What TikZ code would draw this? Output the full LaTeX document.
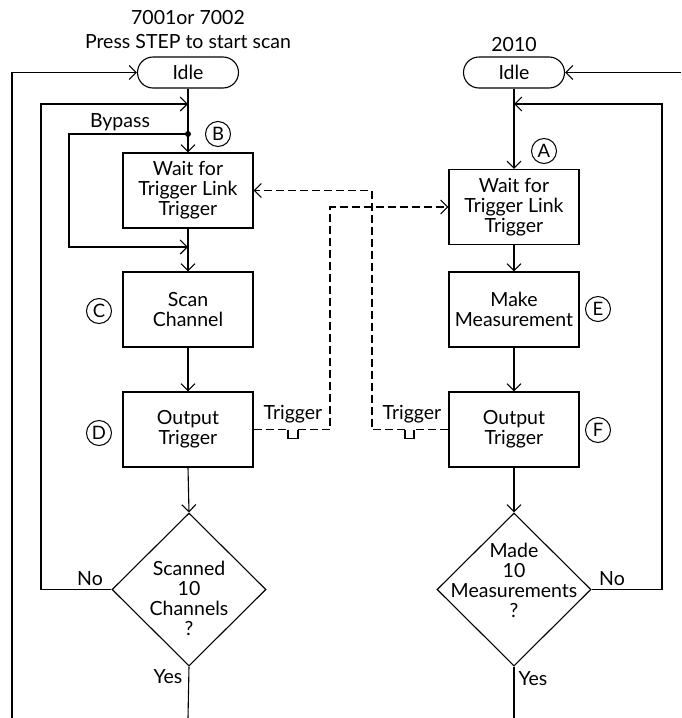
\documentclass[tikz,border=0pt]{standalone}
\usepackage{fontspec}
\setmainfont{Lato}
\usetikzlibrary{arrows.meta,shapes.geometric}
\begin{document}
\begin{tikzpicture}[x=1pt,y=-1pt,
  every node/.style={font=\fontsize{19.5}{20}\selectfont},
  box/.style={draw,line width=1.1pt,minimum width=130pt,minimum height=75pt,align=center,inner sep=0pt},
  term/.style={draw,line width=1.1pt,rounded corners=15.5pt,minimum width=101pt,minimum height=31pt,inner sep=0pt},
  dia/.style={draw,line width=1.1pt,diamond,minimum width=154pt,minimum height=153pt,inner sep=0pt},
  lbl/.style={circle,draw,line width=1pt,minimum size=25pt,inner sep=0pt,font=\fontsize{18.5}{18.5}\selectfont},
  ln/.style={line width=1.1pt},
  arr/.style={ln,-{Straight Barb[length=7pt,width=14pt]}},
  dsh/.style={ln,dash pattern=on 8pt off 4pt},
  txt/.style={align=center,inner sep=0pt}
]
\useasboundingbox (0,0) rectangle (681,718);

% ---------- left column ----------
\node[txt] (h1) at (188,18) {7001or 7002};
\node[txt] (h2) at (188,42) {Press STEP to start scan};
\node[term] (i1) at (188,72.5) {Idle};
\node[box] (w1) at (188,190.5) {Wait for\\Trigger Link\\Trigger};
\node[box] (s1) at (188,309.5) {Scan\\Channel};
\node[box] (o1) at (188,429.5) {Output\\Trigger};
\node[dia] (d1) at (189,589.5) {};
\node[txt] (d1t) at (189,598) {Scanned\\10\\Channels\\?};

\node[lbl] (B) at (218,134) {B};
\node[lbl] (C) at (99,311) {C};
\node[lbl] (D) at (99,433) {D};
\node[txt] (byp) at (120,122) {Bypass};
\node[txt] (no1) at (90,579) {No};
\node[txt] (yes1) at (168,677) {Yes};

% ---------- right column ----------
\node[txt] (h3) at (514,45) {2010};
\node[term] (i2) at (514,72.5) {Idle};
\node[box] (w2) at (514,207) {Wait for\\Trigger Link\\Trigger};
\node[box] (m2) at (514,309.5) {Make\\Measurement};
\node[box] (o2) at (514,429.5) {Output\\Trigger};
\node[dia] (d2) at (514,589.5) {};
\node[txt] (d2t) at (514,580) {Made\\10\\Measurements\\?};

\node[lbl] (A) at (544,151) {A};
\node[lbl] (E) at (598,309) {E};
\node[lbl] (F) at (598,430) {F};
\node[txt] (no2) at (612,579) {No};
\node[txt] (yes2) at (533,679) {Yes};

\node[txt] (tr1) at (293,414) {Trigger};
\node[txt] (tr2) at (412,414) {Trigger};

% ---------- coordinates ----------
\coordinate (lb) at (12,718);
\coordinate (j1) at (188,104);
\coordinate (bp) at (188,134);
\coordinate (j2) at (188,247);
\coordinate (e1) at (188,718);
\coordinate (rt) at (681,72.5);
\coordinate (j3) at (514,104);
\coordinate (e2) at (514,718);
\coordinate (p1a) at (288,429.5);
\coordinate (p1b) at (298,429.5);
\coordinate (p2a) at (414,429.5);
\coordinate (p2b) at (405,429.5);

% ---------- left connectors ----------
\draw[arr] (lb) |- (i1.west);
\draw[arr] (d1.west) -- (41,589.5) -- (41,104) -- (j1);
\draw[arr] (i1.south) -- (w1.north);
\fill (bp) circle (3pt);
\draw[arr] (bp) -- (69,134) -- (69,247) -- (j2);
\draw[arr] (w1.south) -- (s1.north);
\draw[arr] (s1.south) -- (o1.north);
\draw[arr] (o1.south) -- (d1.north);
\draw[ln] (d1.south) -- (e1);

% ---------- right connectors ----------
\draw[arr] (rt) -- (i2.east);
\draw[arr] (d2.east) -- (662,589.5) -- (662,104) -- (j3);
\draw[arr] (i2.south) -- (w2.north);
\draw[arr] (w2.south) -- (m2.north);
\draw[arr] (m2.south) -- (o2.north);
\draw[arr] (o2.south) -- (d2.north);
\draw[ln] (d2.south) -- (e2);

% ---------- trigger link (dashed) ----------
\draw[dsh] (o1.east) -- (p1a);
\draw[ln] (p1a) -- ++(0,9) -- ++(10,0) -- (p1b);
\draw[dsh,-{Straight Barb[length=7pt,width=14pt]}] (p1b) -- (330,429.5) |- (w2.west);

\draw[dsh] (o2.west) -- (p2a);
\draw[ln] (p2a) -- ++(0,9) -- ++(-9,0) -- (p2b);
\draw[dsh,-{Straight Barb[length=7pt,width=14pt]}] (p2b) -- (372,429.5) |- (w1.east);
\end{tikzpicture}
\end{document}
